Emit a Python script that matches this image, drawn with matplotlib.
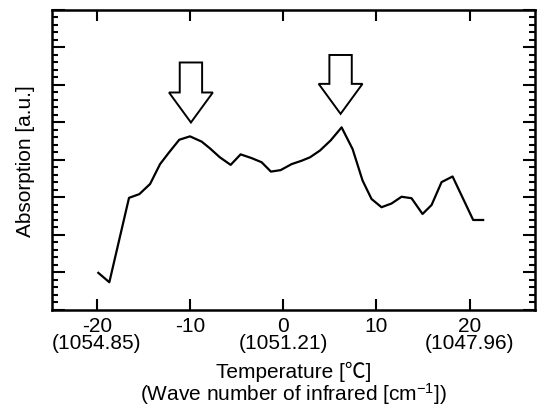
import matplotlib
matplotlib.use("Agg")
import matplotlib.pyplot as plt
from matplotlib.patches import FancyArrow
from matplotlib.ticker import MultipleLocator

plt.rcParams['font.family'] = ['Liberation Sans', 'Noto Sans CJK JP', 'DejaVu Sans']
plt.rcParams['mathtext.fontset'] = 'custom'
plt.rcParams['mathtext.rm'] = 'Liberation Sans'
plt.rcParams['mathtext.it'] = 'Liberation Sans:italic'
plt.rcParams['mathtext.bf'] = 'Liberation Sans:bold'

# data
temperature = [-19.83, -18.65, -16.54, -15.43, -14.28, -13.21, -12.22, -11.15,
               -10.0, -8.75, -7.86, -6.79, -5.64, -4.57, -3.39, -2.32, -1.32,
               -0.28, 0.90, 1.97, 2.86, 3.93, 5.08, 6.26, 7.44, 8.51, 9.47,
               10.54, 11.62, 12.69, 13.76, 14.94, 15.91, 16.98, 18.16, 20.37,
               21.44]
absorption = [0.99, 0.74, 2.99, 3.09, 3.36, 3.89, 4.21, 4.54,
              4.63, 4.49, 4.31, 4.07, 3.87, 4.15, 4.05, 3.94, 3.69,
              3.73, 3.89, 3.98, 4.07, 4.25, 4.52, 4.87, 4.29, 3.45, 2.96,
              2.74, 2.84, 3.02, 2.98, 2.56, 2.80, 3.41, 3.56, 2.40,
              2.40]

xtick_pos = [-20, -10, 0, 10, 20]
xtick_labels = ["-20\n(1054.85)", "-10", "0\n(1051.21)", "10", "20\n(1047.96)"]

# peak markers (x, top of arrow, tip of arrow)
arrow_x = [-9.9, 6.15]
arrow_top = [6.6, 6.8]
arrow_tip = [5.0, 5.23]

fig = plt.figure(figsize=(5.41, 4.10), dpi=100)
ax = fig.add_axes([0.0961, 0.2415, 0.8928, 0.7317])

ax.plot(temperature, absorption, color="black", lw=1.6)

for x, top, tip in zip(arrow_x, arrow_top, arrow_tip):
    ax.add_patch(FancyArrow(x, top, 0, tip - top, width=2.4, head_width=4.7,
                            head_length=0.8, length_includes_head=True,
                            fc="white", ec="black", lw=1.4))

ax.set_xlim(-24.8, 27)
ax.set_ylim(0, 8)

ax.set_xticks(xtick_pos)
ax.set_xticklabels(xtick_labels, fontsize=15, linespacing=0.9)
ax.set_yticks(range(0, 9))
ax.yaxis.set_minor_locator(MultipleLocator(0.2))
ax.set_yticklabels([])

ax.tick_params(axis="x", direction="in", top=True, length=8, width=1.5, pad=4)
ax.tick_params(axis="y", which="major", direction="in", right=True, length=9, width=1.5)
ax.tick_params(axis="y", which="minor", direction="in", right=True, length=4.5, width=1.5)
for s in ax.spines.values():
    s.set_linewidth(1.8)

ax.set_ylabel("Absorption [a.u.]", fontsize=15, labelpad=9)
ax.set_xlabel("Temperature [℃]\n(Wave number of infrared [cm$^{-1}$])",
              fontsize=15, linespacing=1.0, labelpad=6)

fig.savefig("out.png", dpi=100)
